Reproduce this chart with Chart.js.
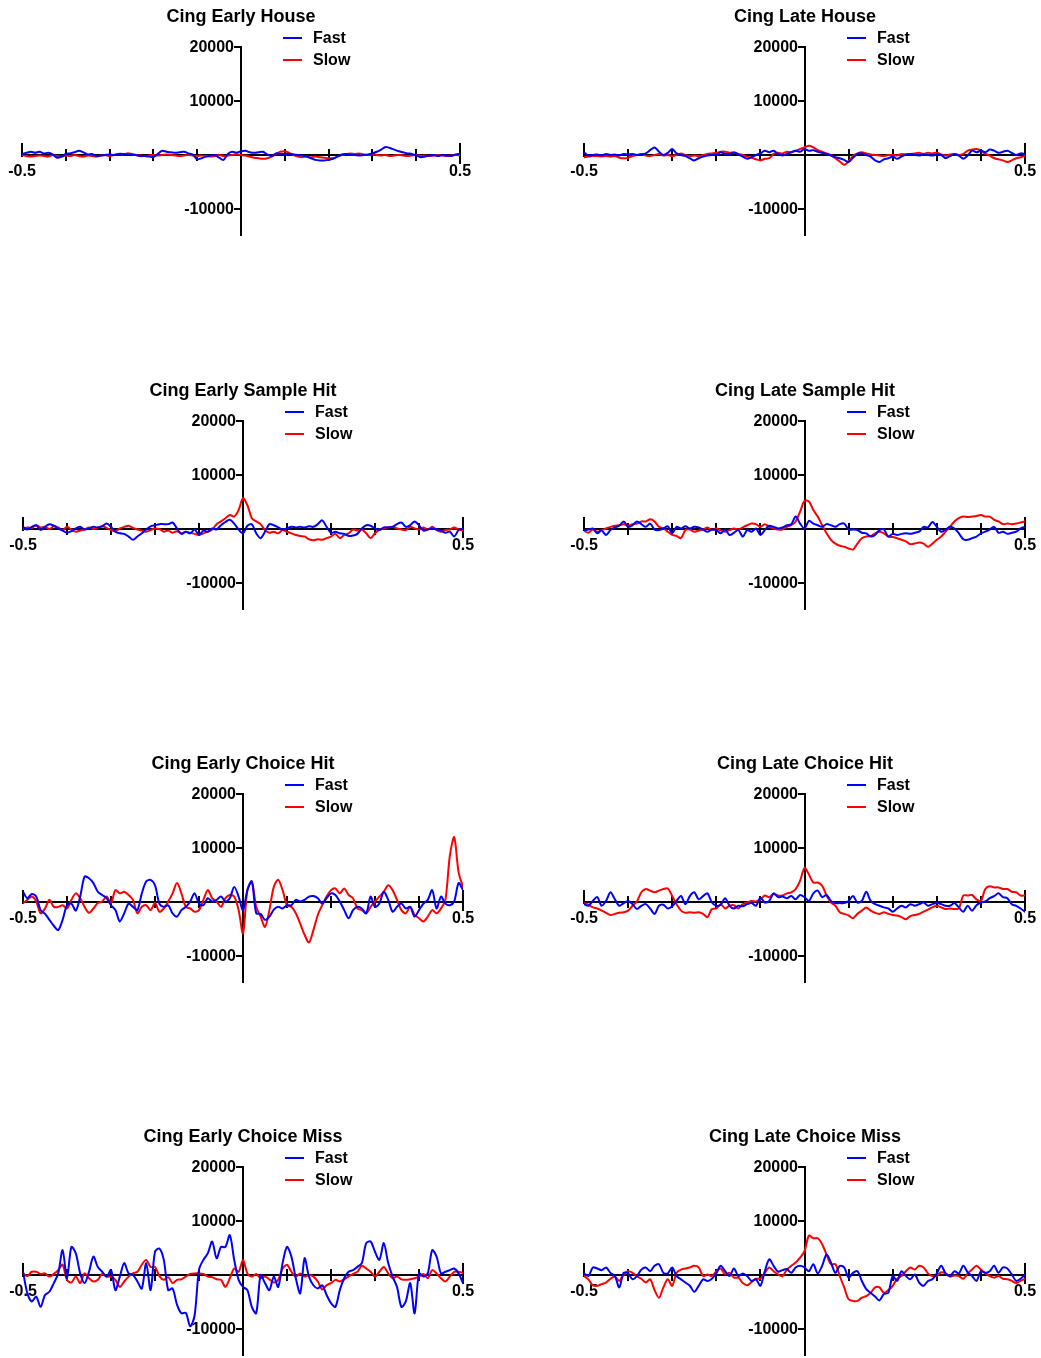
<!DOCTYPE html>
<html>
<head>
<meta charset="utf-8">
<script src="https://cdn.jsdelivr.net/npm/chart.js@4.4.1/dist/chart.umd.min.js"></script>
<style>
  html, body { margin: 0; padding: 0; background: #ffffff; }
  #page { position: relative; width: 1041px; height: 1358px; overflow: hidden; background: #ffffff; }
  #page canvas { position: absolute; }
</style>
</head>
<body>
<div id="page"></div>
<script>
// Sample times (s), 10 ms apart from -0.5 to 0.5
const times = [];
for (let i = 0; i <= 100; i++) times.push(Math.round((-0.5 + i * 0.01) * 100) / 100);

const panelTitles = [
  'Cing Early House', 'Cing Late House',
  'Cing Early Sample Hit', 'Cing Late Sample Hit',
  'Cing Early Choice Hit', 'Cing Late Choice Hit',
  'Cing Early Choice Miss', 'Cing Late Choice Miss'
];
const seriesNames = ['Fast', 'Slow'];
const seriesColors = ['#0000ff', '#ff0000'];

const xTickValues = [-0.5, -0.4, -0.3, -0.2, -0.1, 0, 0.1, 0.2, 0.3, 0.4, 0.5];
const xTickLabels = ['-0.5', '', '', '', '', '', '', '', '', '', '0.5'];
const yTickValues = [20000, 10000, -10000];
const yTickLabels = ['20000', '10000', '-10000'];

const earlyHouseFast = [
  200, 400, 600, 400, 600, 300, 400, 100, -500, -300,
  200, 300, 500, 800, 500, 100, 200, -200, -100, 0,
  100, 0, 200, 200, 100, 100, 0, -200, -200, -300,
  -400, 200, 800, 600, 500, 400, 500, 600, 300, 100,
  -800, -600, -300, -100, 0, -500, -900, 200, 600, 400,
  700, 800, 500, 400, 500, 600, 100, -200, 300, 200,
  200, 200, 100, 0, -100, -300, -600, -900, -1000, -1000,
  -900, -700, -300, 100, 200, 0, 0, -100, 0, 100,
  300, 600, 1000, 1500, 1300, 1000, 700, 500, 300, 200,
  -100, -400, -300, -100, 0, -200, 0, -100, -200, 100,
  200
];
const earlyHouseSlow = [
  0, -200, -300, -200, -100, -200, -300, 0, -200, -300,
  -100, -200, 0, -200, -300, -100, -200, -300, -100, 0,
  -200, 0, 200, 100, 300, 200, 0, -100, -200, -100,
  0, -100, 0, 100, 0, -100, -200, -100, 0, -100,
  -200, -100, -200, -300, -200, 0, -200, -100, 0, 100,
  0, -100, -300, -500, -600, -700, -600, -300, 200, 600,
  700, 400, 0, -300, -400, -300, -400, -300, -400, -500,
  -600, -600, -300, 0, 200, 300, 200, 300, 100, 0,
  100, 0, -100, 0, -200, -100, 0, -100, -200, -100,
  0, -200, -100, -200, -100, 0, -100, -200, -100, 0,
  -100
];

const lateHouseFast = [
  500, -100, 0, 100, -100, 200, 0, 100, -100, 200,
  100, 200, 0, 100, 300, 900, 1400, 600, 0, 400,
  1100, 300, 0, -200, -600, -1000, -600, -300, -100, 0,
  0, 500, 200, 200, 400, 100, -300, -700, -400, 0,
  300, 800, 500, 800, 200, -100, 200, 500, 800, 600,
  1100, 800, 900, 600, 400, 200, -100, -400, -600, -900,
  -1300, -500, 200, 300, 0, -300, -1000, -1300, -800, -600,
  -300, -700, -300, 100, 200, 0, -100, 100, 0, -100,
  100, 0, -600, -200, 200, -100, -700, -100, 800, 500,
  800, 500, 1000, 800, 400, 600, 800, 400, 0, 300,
  200
];
const lateHouseSlow = [
  -400, -300, -200, -200, -300, -200, -300, -200, -500, -600,
  -500, -200, 0, 200, -100, -200, 0, 200, -100, 0,
  -200, 0, 300, 0, -200, -100, -200, 0, 200, 300,
  400, 600, 600, 400, 500, 200, 0, -300, -500, -800,
  -1000, -700, -600, 200, 400, 300, 600, 500, 800, 1100,
  1400, 1700, 1400, 900, 600, 300, 0, -600, -1200, -1800,
  -1200, -200, 300, 500, 300, 100, 0, -100, -200, 0,
  0, -100, 200, 100, 200, 300, 400, 200, 400, 300,
  400, 100, -100, 100, 200, 0, 200, 800, 1000, 1100,
  800, 200, -100, -600, -800, -1000, -1300, -1000, -600, -400,
  -200
];

const earlySampleHitFast = [
  400, -100, 400, 700, -200, 400, 900, 600, 100, -300,
  -700, -400, 100, 400, -100, 100, 400, 300, 500, 1000,
  400, -500, -800, -900, -1400, -2000, -1400, -800, -100, 500,
  700, 900, 900, 900, 1200, 100, -900, -500, -800, -100,
  -1100, -300, -500, 100, -100, 700, 1300, 1700, 1000, -100,
  -800, 600, 900, -800, -1700, -500, 900, 700, 300, -100,
  100, 400, 300, 400, 300, 500, 400, 900, 1600, 400,
  -700, -500, -800, -900, -1300, -1200, -900, 100, 700, 600,
  100, -200, 300, 300, 400, 900, 1200, 400, 700, 1400,
  700, -300, -100, 100, -100, -300, -700, -500, -1400, -200,
  100
];
const earlySampleHitSlow = [
  0, 300, 200, 700, 300, 400, 0, 500, 300, -200,
  400, -100, -500, -300, -100, 300, 0, 300, 500, 200,
  -200, -400, 100, 400, 600, 200, -100, -300, -500, -200,
  100, 0, -500, -300, -700, -400, -800, -500, -700, -900,
  -1100, -800, -500, -100, 900, 1400, 2000, 2600, 2300, 3500,
  5700, 4400, 2000, 1400, 900, -200, -700, -500, -800, -200,
  -500, -800, -1100, -1300, -1400, -1900, -2100, -1900, -2000, -1700,
  -1400, -900, -1700, -1100, -800, -100, -300, -100, -800, -1700,
  -800, -100, 100, 300, 400, 100, -100, -200, 400, 100,
  -100, 300, -100, 400, -200, -500, -200, -100, 300, -100,
  -300
];

const lateSampleHitFast = [
  -200, -100, 100, -800, -300, -1100, -200, 300, 600, 1400,
  400, 700, 1400, 900, 400, 1000, -100, -200, 100, 500,
  -800, 400, 100, 500, 100, 400, 300, -100, -500, -100,
  -200, -800, -100, -1100, -700, -200, -1400, -200, -500, 100,
  -1100, -200, 600, 400, 100, 300, 700, 900, 2300, 1000,
  100, 1500, 1000, 700, 400, 900, 700, 400, 900, 1000,
  -100, -100, -200, -700, -800, -1400, -1100, -200, -100, -1400,
  -900, -1100, -900, -800, -900, -700, -500, 400, 300, 1300,
  400, -500, -100, 400, 100, -800, -1900, -2000, -1700, -1400,
  -800, -500, -100, 400, -700, -500, -900, -700, -500, 100,
  400
];
const lateSampleHitSlow = [
  -300, -700, -100, -500, -200, 100, 400, 600, 700, 900,
  600, 900, 1000, 1400, 1400, 1800, 1400, 400, 100, -500,
  -1100, -1300, -1700, -200, -100, -500, -300, -100, 300, -200,
  100, -300, -500, -200, 100, -100, 300, 700, 1000, 900,
  400, 900, 400, 100, -100, -100, 400, 700, 1400, 3200,
  5200, 5100, 3500, 2300, 700, -800, -2000, -2700, -3100, -3300,
  -3600, -3800, -2700, -1700, -1400, -1300, -800, -500, -800, -1400,
  -1500, -1700, -2000, -2300, -2800, -2700, -2500, -2700, -3300, -2700,
  -2000, -1400, -500, 400, 1400, 2000, 2300, 2200, 2300, 2400,
  2600, 2300, 2300, 1700, 1400, 900, 1000, 900, 1000, 1200,
  1400
];

const earlyChoiceHitFast = [
  1900, 700, 1500, 1000, -1500, -2200, -3300, -4400, -5200, -3300,
  -600, -300, -1600, 1000, 4700, 4400, 3500, 1900, 1300, 700,
  -600, -1500, -3600, -2100, -300, -900, -1500, 1600, 3800, 4100,
  3100, -300, -900, -600, -2100, -2700, -1500, -900, 100, 1600,
  -300, -600, 700, 100, 400, 1000, 100, 700, 2800, 1000,
  -1500, 2200, 3800, -2100, -2200, -3300, -2700, -1400, -900, -1200,
  -600, -600, 400, 100, 400, 1000, 1100, 700, -300, 700,
  1600, 1300, 100, -1500, -3000, -1500, -900, -1200, -2100, 1000,
  -900, -300, 1900, 400, -1800, -900, -300, -1200, -900, -2700,
  -1500, -300, 400, 2200, -1200, 1000, -300, -600, 100, 3500,
  2200
];
const earlyChoiceHitSlow = [
  -200, 400, 1000, 100, -2100, -1200, 400, -900, -900, -600,
  -1200, 400, 1600, 700, -900, -2000, -1200, -200, 100, 1000,
  -200, 2200, 1600, 1900, 1300, 400, -2100, -900, -600, -1500,
  -200, -1800, -1200, 100, 1600, 3500, 1600, -900, -1200, -1800,
  -1500, 400, 2200, 700, 100, -900, 700, 1300, 1000, -1500,
  -5800, 2200, 3800, -900, -2700, -4600, -1500, 2800, 4100, 2200,
  -600, -900, -2100, -4000, -6100, -7500, -5200, -2400, -600, 1000,
  2200, 2500, 1600, 2500, 1300, 700, -1200, -1500, -2100, -900,
  100, 1000, 1900, 3100, 2200, 400, -1500, -2100, -900, -2400,
  -3000, -3600, -2700, -1500, -2100, -1200, 400, 8500, 12000, 5500,
  2800
];

const lateChoiceHitFast = [
  -400, -700, 200, 900, -700, 200, 1800, 500, -700, -200,
  200, -400, -1300, -700, -400, -1200, -2200, -700, -500, -1200,
  -800, 200, 1100, -400, 1100, 1800, 500, 1100, 1600, -100,
  -700, -500, 700, -700, -1200, -700, -800, -400, -200, -700,
  800, -100, 200, 1600, 900, 1000, 700, 1100, 500, 1300,
  900, 200, 1600, 2100, 900, 1300, 200, -200, -200, -200,
  200, 1100, -100, 200, 1900, 200, -400, -700, -1000, -1200,
  -1800, -1200, -700, -1000, -400, -700, -400, -100, -700, -400,
  -200, -400, -700, -700, -200, -1000, -1800, -700, -1600, -600,
  -100, 100, 700, 1100, 1600, 900, 700, -400, -700, -1200,
  -1800
];
const lateChoiceHitSlow = [
  -200, -500, -1000, -1200, -1600, -2000, -2400, -2200, -2000, -1900,
  -1600, -700, 100, 1800, 2400, 2100, 1800, 2100, 2400, 2500,
  1100, -400, -1600, -2000, -1900, -2000, -1900, -2200, -2800, -1300,
  -1200, -400, -1200, -700, -600, -1200, -400, -100, 200, 100,
  500, 1200, 900, 1500, 1200, 1200, 1600, 1800, 2400, 3900,
  6300, 5100, 3600, 3600, 3000, 1200, -100, -700, -1900, -2200,
  -2500, -3000, -2200, -1600, -1000, -1600, -2000, -2200, -1900, -2200,
  -2400, -2500, -2800, -3200, -2600, -2400, -2200, -1800, -1400, -1000,
  -700, -1000, -1300, -1200, -1300, -1200, 1200, 1200, 1300, 500,
  200, 2400, 2900, 2700, 2700, 2400, 2400, 1900, 1800, 1200,
  1200
];

const earlyChoiceMissFast = [
  600, -3400, -4900, -4000, -5900, -3700, -3100, -1500, 300, 4600,
  -600, 5200, 4000, 300, -1500, 600, 3400, 1500, 600, -300,
  900, -2800, -300, 2200, 300, 0, -1200, -2500, 2200, -2800,
  4300, 4900, 2800, -2800, -2500, -5500, -7100, -7000, -9500, -7500,
  1000, 2800, 4000, 6200, 3100, 5200, 5200, 7400, 2800, -900,
  -2200, -2800, -5900, -7100, 0, -1500, -2800, -300, -2200, 2200,
  5200, 3400, -600, -3400, 3100, -300, -1900, -2500, -1900, -3700,
  -5200, -5900, -2800, -600, 600, 900, 1500, 2200, 5900, 6200,
  4300, 2800, 5900, 2200, -300, -2200, -5900, -4900, -1500, -7100,
  300, -300, 300, 4600, 3400, 300, 600, 900, 1200, 300,
  -1500
];
const earlyChoiceMissSlow = [
  300, -200, 600, 600, 200, 300, -300, 200, 900, 1900,
  -900, -1400, -300, -1500, 300, -600, -1200, -900, 200, -300,
  -300, -900, -2200, -1200, -300, 300, 600, 1900, 2800, 1500,
  1500, -200, -900, -400, -1500, -900, -800, -300, 200, 300,
  300, 200, -300, -400, -800, -900, -2200, -600, 1200, 600,
  2800, 300, -300, 200, -600, -300, -800, -1400, -900, 1200,
  1900, 600, -300, 300, -300, 0, -300, -1200, -2700, -1900,
  -1500, -900, -1200, -800, -300, 200, 600, 1700, 1200, 600,
  -300, 600, 1500, 300, -600, -300, -800, -900, -800, -600,
  -300, 200, -600, 900, 300, -600, -1200, -300, 600, 600,
  400
];

const lateChoiceMissFast = [
  300, -200, 1400, 1200, 900, 1400, 400, -200, -2300, 400,
  300, -800, -200, 1000, 1400, 700, 1700, 2000, 400, 300,
  1400, -200, -800, -1400, -2000, -3100, -2000, -800, -1100, -700,
  300, 1700, 700, -200, 1200, -200, 300, -200, -1100, -800,
  -2000, 700, 2900, 1700, 600, 900, 1100, 400, 1400, 1700,
  1400, 700, 2000, 300, 1700, 3800, 2300, 400, 1700, 1400,
  -500, 400, 700, -1100, -2600, -3300, -4000, -4700, -3500, -3300,
  -200, -1100, 700, -200, -800, 100, -1400, -2000, -1100, -800,
  300, 1700, 300, -200, 700, 300, 1700, 500, -200, -1100,
  700, 400, 700, 1700, 400, 1400, 1200, 100, -1100, -700,
  100
];
const lateChoiceMissSlow = [
  -200, -800, -1900, -2000, -1700, -1400, -700, -300, -1100, 100,
  700, 400, -200, -700, -1400, -800, -2800, -4200, -2300, -800,
  -2000, 400, 1000, 1200, 1400, 1700, 1400, -200, 100, -200,
  700, 1200, 100, 400, -500, -500, -1500, -1900, -1300, -700,
  -700, 400, 1400, 700, 100, -200, 1000, 1700, 2300, 3200,
  4400, 7300, 6800, 6800, 5700, 3800, 2000, 2000, -200, -2300,
  -4500, -4800, -4800, -4200, -3900, -3300, -2300, -2300, -3300, -2800,
  -2000, -700, -200, 700, 1400, 1000, 1700, 1400, 300, -200,
  -100, 500, 300, -300, -100, -200, -700, 300, 1000, 1700,
  1000, 300, -200, -500, -200, -700, -800, -1100, -1500, -1100,
  -700
];

const fastSeries = [earlyHouseFast, lateHouseFast, earlySampleHitFast, lateSampleHitFast,
                    earlyChoiceHitFast, lateChoiceHitFast, earlyChoiceMissFast, lateChoiceMissFast];
const slowSeries = [earlyHouseSlow, lateHouseSlow, earlySampleHitSlow, lateSampleHitSlow,
                    earlyChoiceHitSlow, lateChoiceHitSlow, earlyChoiceMissSlow, lateChoiceMissSlow];

// Page geometry of the plot areas (two columns, four rows)
const rowTops = [47, 421, 794, 1167];
const plotBoxes = [
  [{ left: 22, width: 438 }, { left: 584, width: 441 }],
  [{ left: 23, width: 440 }, { left: 584, width: 441 }],
  [{ left: 23, width: 440 }, { left: 584, width: 441 }],
  [{ left: 23, width: 440 }, { left: 584, width: 441 }]
];
const PLOT_HEIGHT = 189;
const CANVAS_HEIGHT = 300;
const PAD_TOP = 47;

const FONT = '"Liberation Sans", Arial, Helvetica, sans-serif';

// Axes crossing at the origin, with ticks, tick labels, title and legend
const crossAxes = {
  id: 'crossAxes',
  beforeDatasetsDraw(chart, args, opts) {
    const { ctx, chartArea } = chart;
    const xs = chart.scales.x, ys = chart.scales.y;
    const x0 = Math.round(xs.getPixelForValue(0));
    const y0 = Math.round(ys.getPixelForValue(0));
    const yTop = Math.round(ys.getPixelForValue(ys.max));
    const yBot = Math.round(ys.getPixelForValue(ys.min));
    const xL = Math.round(xs.getPixelForValue(xs.min));
    const xR = Math.round(xs.getPixelForValue(xs.max));

    ctx.save();
    ctx.strokeStyle = '#000';
    ctx.fillStyle = '#000';
    ctx.lineWidth = 2;
    ctx.lineCap = 'butt';

    // vertical axis
    ctx.beginPath();
    ctx.moveTo(x0, yTop - 1);
    ctx.lineTo(x0, yBot);
    ctx.stroke();

    ctx.font = 'bold 16px ' + FONT;
    ctx.textAlign = 'right';
    ctx.textBaseline = 'middle';
    yTickValues.forEach((v, i) => {
      const py = Math.round(ys.getPixelForValue(v));
      ctx.beginPath();
      ctx.moveTo(x0 - 7, py);
      ctx.lineTo(x0, py);
      ctx.stroke();
      ctx.fillText(yTickLabels[i], x0 - 7, py + 1);
    });

    // horizontal axis
    ctx.beginPath();
    ctx.moveTo(xL - 1, y0);
    ctx.lineTo(xR + 1, y0);
    ctx.stroke();

    ctx.textAlign = 'center';
    xTickValues.forEach((v, i) => {
      if (v === 0) return;
      const px = Math.round(xs.getPixelForValue(v));
      let up = 6, down = 6;
      if (i === 0) { up = 12; down = 2; }
      if (i === xTickValues.length - 1) { up = 12; down = 9; }
      ctx.beginPath();
      ctx.moveTo(px, y0 - up);
      ctx.lineTo(px, y0 + down);
      ctx.stroke();
      if (xTickLabels[i]) ctx.fillText(xTickLabels[i], px, y0 + 17);
    });

    // title
    ctx.font = 'bold 18px ' + FONT;
    ctx.textAlign = 'center';
    ctx.textBaseline = 'middle';
    ctx.fillText(opts.title, x0, chartArea.top - 30);

    // legend
    ctx.font = 'bold 16px ' + FONT;
    ctx.textAlign = 'left';
    chart.data.datasets.forEach((ds, i) => {
      const ly = chartArea.top - 9 + i * 22;
      ctx.strokeStyle = ds.borderColor;
      ctx.lineWidth = 2;
      ctx.beginPath();
      ctx.moveTo(x0 + 42, ly);
      ctx.lineTo(x0 + 61, ly);
      ctx.stroke();
      ctx.fillStyle = '#000';
      ctx.fillText(ds.label, x0 + 72, ly + 1);
    });
    ctx.restore();
  }
};

const page = document.getElementById('page');

panelTitles.forEach((title, p) => {
  const row = Math.floor(p / 2), col = p % 2;
  const box = plotBoxes[row][col];
  const canvasLeft = col === 0 ? 0 : 540;
  const canvasWidth = col === 0 ? 520 : 501;
  const canvasTop = rowTops[row] - PAD_TOP;

  const canvas = document.createElement('canvas');
  canvas.width = canvasWidth;
  canvas.height = CANVAS_HEIGHT;
  canvas.style.left = canvasLeft + 'px';
  canvas.style.top = canvasTop + 'px';
  canvas.style.width = canvasWidth + 'px';
  canvas.style.height = CANVAS_HEIGHT + 'px';
  page.appendChild(canvas);

  const padLeft = box.left - canvasLeft;
  const padRight = canvasWidth - padLeft - box.width;
  const padBottom = CANVAS_HEIGHT - PAD_TOP - PLOT_HEIGHT;

  const series = [fastSeries[p], slowSeries[p]];
  const datasets = series.map((vals, s) => ({
    label: seriesNames[s],
    data: times.map((t, i) => ({ x: t, y: vals[i] })),
    borderColor: seriesColors[s],
    backgroundColor: seriesColors[s],
    borderWidth: 2,
    pointRadius: 0,
    tension: 0.3,
    fill: false,
    borderJoinStyle: 'round',
    borderCapStyle: 'round'
  }));

  new Chart(canvas, {
    type: 'line',
    data: { datasets },
    options: {
      responsive: false,
      animation: false,
      devicePixelRatio: 1,
      layout: { padding: { left: padLeft, right: padRight, top: PAD_TOP, bottom: padBottom } },
      plugins: {
        legend: { display: false },
        tooltip: { enabled: false },
        crossAxes: { title: title }
      },
      scales: {
        x: { type: 'linear', min: -0.5, max: 0.5, display: false },
        y: { type: 'linear', min: -15000, max: 20000, display: false }
      }
    },
    plugins: [crossAxes]
  });
});
</script>
</body>
</html>
